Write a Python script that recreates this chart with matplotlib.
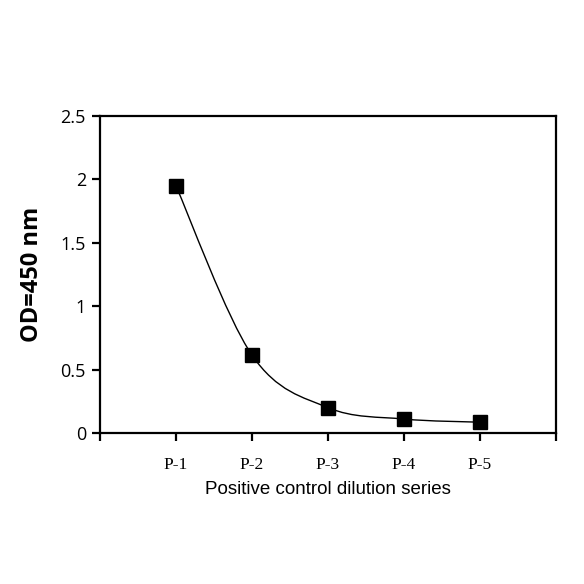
import numpy as np
import matplotlib
matplotlib.use('Agg')
import matplotlib.pyplot as plt
from matplotlib.path import Path
import matplotlib.patches as mpatches

labels = ['P-1', 'P-2', 'P-3', 'P-4', 'P-5']
od = [1.95, 0.615, 0.2, 0.11, 0.085]
yticks = [0, 0.5, 1, 1.5, 2, 2.5]


def excel_smooth(x, y):
	# bezier control points like the spreadsheet "smoothed line"
	n = len(x)
	verts = [(x[0], y[0])]
	codes = [Path.MOVETO]
	for i in range(n - 1):
		x0, y0 = (x[i - 1], y[i - 1]) if i > 0 else (x[i], y[i])
		x3, y3 = (x[i + 2], y[i + 2]) if i + 2 < n else (x[i + 1], y[i + 1])
		c1 = (x[i] + (x[i + 1] - x0) / 6., y[i] + (y[i + 1] - y0) / 6.)
		c2 = (x[i + 1] - (x3 - x[i]) / 6., y[i + 1] - (y3 - y[i]) / 6.)
		verts += [c1, c2, (x[i + 1], y[i + 1])]
		codes += [Path.CURVE4] * 3
	return Path(verts, codes)


fig = plt.figure(figsize=(5.84, 5.84), dpi=100)
ax = fig.add_axes([0.171, 0.2586, 0.781, 0.5428])

xs = np.arange(1, len(labels) + 1)
ax.add_patch(mpatches.PathPatch(excel_smooth(list(xs), od), fc='none', ec='black', lw=1.0))
ax.plot(xs, od, ls='none', marker='s', ms=9.5, color='black')

ax.set_xlim(0, 6)
ax.set_ylim(0, 2.5)
ax.set_xticks(range(0, 7))
ax.set_xticklabels([''] + labels + [''], family='Liberation Serif', fontsize=12.5)
ax.set_yticks(yticks)
ax.set_yticklabels([('%g' % v) for v in yticks], family='Open Sans', fontsize=13)

for s in ax.spines.values():
	s.set_linewidth(1.6)
ax.tick_params(axis='both', direction='out', length=6, width=1.6)
ax.tick_params(axis='x', pad=11)
ax.tick_params(axis='y', pad=4)

ax.set_xlabel('Positive control dilution series', family='Liberation Sans', fontsize=13.5, labelpad=6)
ax.set_ylabel('OD=450 nm', family='Open Sans', fontweight='bold', fontsize=17, labelpad=12)

fig.savefig('out.png', dpi=100)
